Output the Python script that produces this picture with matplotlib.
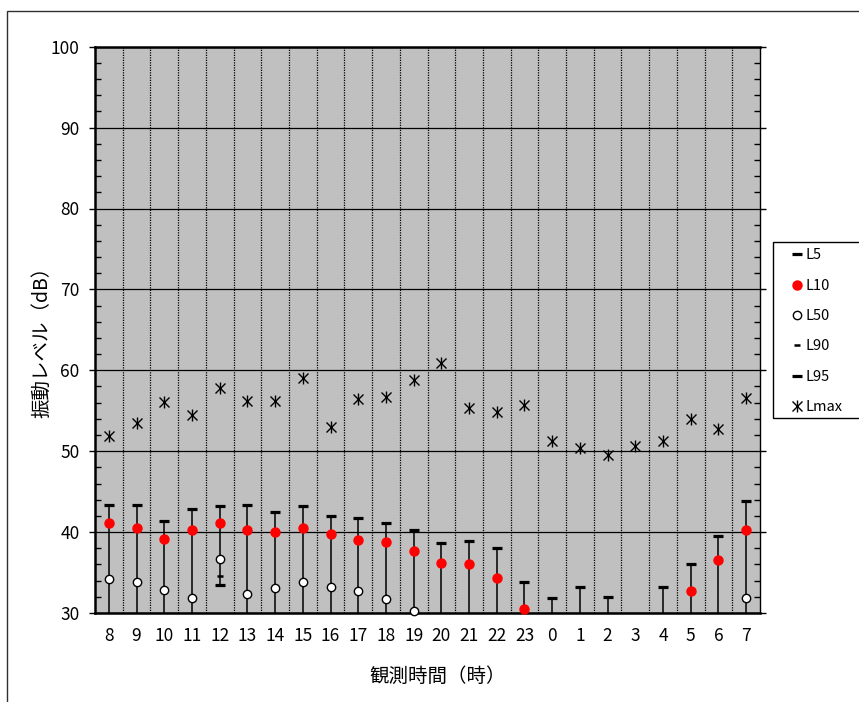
import numpy as np
import matplotlib
matplotlib.use("Agg")
import matplotlib.pyplot as plt
from matplotlib.patches import Rectangle
from matplotlib.legend_handler import HandlerTuple
from matplotlib.ticker import MultipleLocator, FixedLocator

plt.rcParams['font.family'] = ['Noto Sans CJK JP', 'DejaVu Sans']

nan = np.nan

# hours of the measurement, starting at 8 in the morning
hours = ['8', '9', '10', '11', '12', '13', '14', '15', '16', '17', '18', '19',
         '20', '21', '22', '23', '0', '1', '2', '3', '4', '5', '6', '7']

# vibration levels (dB), nan = below the 30 dB floor of the chart
l5 = [43.4, 43.4, 41.4, 42.8, 43.2, 43.4, 42.5, 43.2, 42.0, 41.8, 41.1, 40.2,
      38.7, 38.9, 38.0, 33.8, 31.8, 33.2, 32.0, nan, 33.2, 36.1, 39.5, 43.9]
l10 = [41.1, 40.5, 39.1, 40.3, 41.1, 40.2, 40.0, 40.5, 39.8, 39.0, 38.8, 37.7,
       36.2, 36.0, 34.3, 30.5, nan, nan, nan, nan, nan, 32.7, 36.5, 40.3]
l50 = [34.2, 33.8, 32.9, 31.9, 36.7, 32.4, 33.1, 33.8, 33.2, 32.7, 31.7, 30.3,
       nan, nan, nan, nan, nan, nan, nan, nan, nan, nan, nan, 31.9]
l90 = [nan, nan, nan, nan, 34.6, nan, nan, nan, nan, nan, nan, nan,
       nan, nan, nan, nan, nan, nan, nan, nan, nan, nan, nan, nan]
l95 = [nan, nan, nan, nan, 33.5, nan, nan, nan, nan, nan, nan, nan,
       nan, nan, nan, nan, nan, nan, nan, nan, nan, nan, nan, nan]
lmax = [51.9, 53.5, 56.1, 54.5, 57.8, 56.2, 56.2, 59.0, 53.0, 56.4, 56.7, 58.8,
        60.9, 55.4, 54.9, 55.7, 51.3, 50.4, 49.5, 50.6, 51.3, 54.0, 52.7, 56.6]

YMIN, YMAX = 30, 100

W, H = 859, 702
fig = plt.figure(figsize=(W / 100, H / 100), dpi=100)
ax = fig.add_axes([95 / W, 1 - 613 / H, 665 / W, (613 - 46.7) / H])
ax.set_facecolor('#c0c0c0')

# outer chart border (left/top visible)
fig.patches.append(Rectangle((7 / W, -0.05), 1.0, 1.05 - 10.5 / H,
                             transform=fig.transFigure, fill=False,
                             edgecolor='#303030', lw=1.0))

x = np.arange(len(hours))
l5a = np.array(l5)
l95a = np.array(l95)

# high-low line from L5 down to L95 (or the chart floor)
bottoms = np.where(np.isnan(l95a), YMIN, l95a)
ok = ~np.isnan(l5a)
ax.vlines(x[ok], bottoms[ok], l5a[ok], colors='black', lw=1.1, zorder=3)

h5, = ax.plot(x, l5, ls='none', marker='_', ms=7, mew=2.3, color='black',
              zorder=4)
h10, = ax.plot(x, l10, ls='none', marker='o', ms=6.5, color='red',
               mec='red', zorder=5, clip_on=False)
h50, = ax.plot(x, l50, ls='none', marker='o', ms=6, mfc='white', mec='black',
               mew=1.0, zorder=5, clip_on=False)
h90, = ax.plot(x, l90, ls='none', marker='_', ms=5, mew=1.8, color='black',
               zorder=4)
h95, = ax.plot(x, l95, ls='none', marker='_', ms=7, mew=2.3, color='black',
               zorder=4)
hmx1, = ax.plot(x, lmax, ls='none', marker='x', ms=7, mew=1.0, color='black',
                zorder=4)
hmx2, = ax.plot(x, lmax, ls='none', marker='|', ms=8, mew=1.0, color='black',
                zorder=4)

ax.set_xlim(-0.5, len(hours) - 0.5)
ax.set_ylim(YMIN, YMAX)

ax.set_xticks(x)
ax.set_xticklabels(hours)
ax.xaxis.set_minor_locator(FixedLocator(np.arange(0.5, len(hours) - 1, 1.0)))
ax.tick_params(axis='x', which='major', length=0, pad=10, labelsize=12.5)
ax.tick_params(axis='x', which='minor', length=0)
ax.grid(axis='x', which='minor', color='black', ls=(0, (1, 1)), lw=0.9)

ax.yaxis.set_major_locator(MultipleLocator(10))
ax.yaxis.set_minor_locator(MultipleLocator(2))
ax.tick_params(axis='y', which='major', direction='out', length=4, width=1,
               pad=7, labelsize=12.5, right=True)
ax.tick_params(axis='y', which='minor', direction='in', length=4, width=1,
               right=True)
ax.grid(axis='y', which='major', color='black', lw=0.9)
ax.set_axisbelow(True)

for side in ['left', 'bottom', 'top']:
    ax.spines[side].set_linewidth(1.8)
ax.spines['right'].set_linewidth(1.0)

ax.set_xlabel('観測時間（時）', fontsize=14, va='center')
ax.xaxis.set_label_coords((437.5 - 95) / 665, (613 - 676) / 566.3)
ax.set_ylabel('振動レベル（dB）', fontsize=14, va='center')
ax.yaxis.set_label_coords((42 - 95) / 665, (613 - 337) / 566.3)

# legend box drawn separately so it runs off the right edge like the original
fig.patches.append(Rectangle((773 / W, 1 - 418 / H), 0.2, (418 - 241.7) / H,
                             transform=fig.transFigure, facecolor='white',
                             edgecolor='black', lw=1.0, zorder=5))
leg = fig.legend([h5, h10, h50, h90, h95, (hmx1, hmx2)],
                 ['L5', 'L10', 'L50', 'L90', 'L95', 'Lmax'],
                 handler_map={tuple: HandlerTuple(ndivide=1)},
                 loc='upper left', bbox_to_anchor=(786 / W, 1 - 244 / H),
                 fontsize=10.5, frameon=False, borderaxespad=0,
                 handlelength=0.9, handletextpad=0.15, labelspacing=1.12,
                 borderpad=0.3)
leg.set_zorder(6)

fig.savefig('out.png', dpi=100)
